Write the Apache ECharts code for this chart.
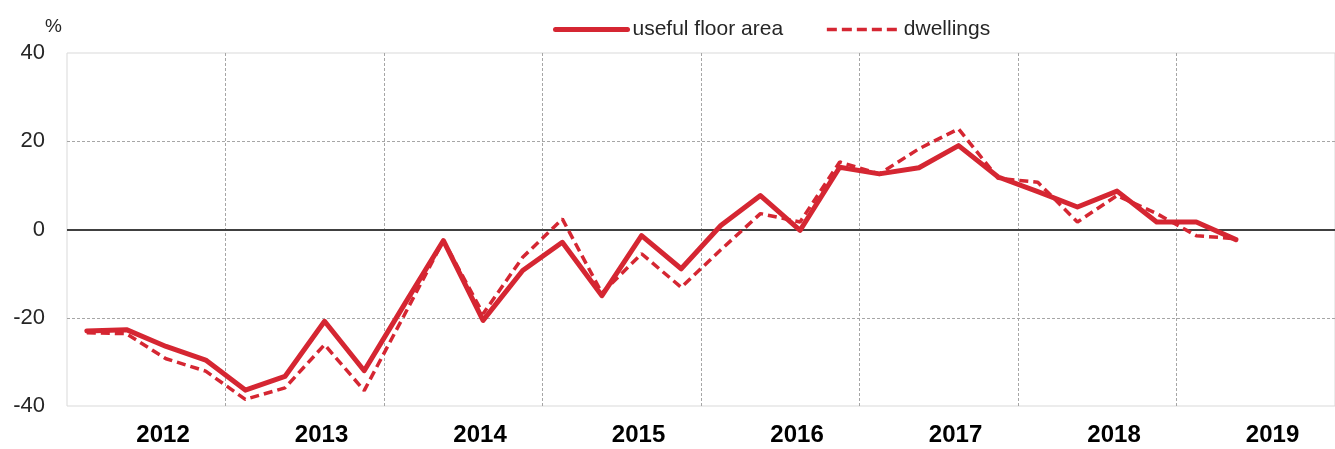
<!DOCTYPE html>
<html>
<head>
<meta charset="utf-8">
<title>useful floor area vs dwellings</title>
<script src="https://cdn.jsdelivr.net/npm/echarts@6/dist/echarts.min.js"></script>
<style>
  html, body { margin: 0; padding: 0; background: #fff; }
  #main { width: 1335px; height: 449px; }
</style>
</head>
<body>
<div id="main"></div>
<script>
// years shown on the axis; quarters are built from these
var years = ['2012', '2013', '2014', '2015', '2016', '2017', '2018', '2019']
var quarters = []
years.forEach(function (y) {
  ['Q1', 'Q2', 'Q3', 'Q4'].forEach(function (q) { quarters.push(y + ' ' + q) })
})

// y/y change, % (2012 Q1 .. 2019 Q2)
var floorArea = [
  -23.0, -22.7, -26.5, -29.6,
  -36.4, -33.3, -20.8, -32.0,
  -17.2, -2.5, -20.6, -9.3,
  -2.9, -15.0, -1.4, -8.9,
  0.9, 7.7, -0.2, 14.1,
  12.6, 14.0, 19.0, 11.9,
  8.6, 5.1, 8.7, 1.7,
  1.7, -2.3
]
var dwellings = [
  -23.4, -23.6, -29.3, -32.1,
  -38.5, -35.9, -26.1, -36.5,
  -19.6, -2.5, -19.1, -6.3,
  2.4, -14.4, -5.5, -13.1,
  -4.6, 3.6, 1.7, 15.3,
  12.6, 18.3, 22.8, 11.6,
  10.7, 1.7, 7.7, 3.6,
  -1.4, -2.1
]
var yTicks = { min: -40, max: 40, step: 20 }

var red = '#d52632'
var font = '"Liberation Sans Narrow", "Liberation Sans", Arial, sans-serif'

var chart = echarts.init(document.getElementById('main'))
chart.setOption({
  animation: false,
  backgroundColor: '#fff',
  grid: {
    left: 67,
    top: 53,
    bottom: 43,
    width: 1280,
    show: true,
    borderColor: '#d9d9d9',
    borderWidth: 1
  },
  legend: {
    left: 548,
    top: 14,
    itemWidth: 72,
    itemHeight: 14,
    itemGap: 42,
    itemStyle: { opacity: 0 },
    textStyle: {
      fontFamily: font,
      fontSize: 21,
      color: '#262626'
    },
    data: [
      { name: 'useful floor area', lineStyle: { width: 5, color: red, cap: 'round' } },
      { name: 'dwellings', lineStyle: { width: 3.5, color: red, type: [10, 5] } }
    ]
  },
  graphic: [
    {
      type: 'text',
      left: 45,
      top: 17,
      style: { text: '%', fontFamily: font, fontSize: 19, fill: '#262626' }
    }
  ],
  xAxis: {
    type: 'category',
    data: quarters,
    boundaryGap: true,
    axisLine: { show: false },
    axisTick: { show: false },
    axisLabel: {
      interval: function (index) { return index % 4 === 2 },
      formatter: function (v) { return v.slice(0, 4) },
      fontFamily: font,
      fontSize: 24,
      fontWeight: 'bold',
      color: '#000',
      margin: 17,
      padding: [0, 6, 0, 0]
    },
    splitLine: {
      show: true,
      interval: function (index) { return index > 0 && index % 4 === 0 },
      lineStyle: { color: '#a6a6a6', type: [3, 2], width: 1 }
    }
  },
  yAxis: {
    type: 'value',
    min: yTicks.min,
    max: yTicks.max,
    interval: yTicks.step,
    axisLine: { show: false },
    axisTick: { show: false },
    axisLabel: {
      fontFamily: font,
      fontSize: 22,
      color: '#262626',
      margin: 22
    },
    splitLine: {
      show: true,
      lineStyle: {
        color: ['rgba(0,0,0,0)', '#a6a6a6', 'rgba(0,0,0,0)', '#a6a6a6', 'rgba(0,0,0,0)'],
        type: [3, 2],
        width: 1
      }
    }
  },
  series: [
    {
      name: 'useful floor area',
      type: 'line',
      data: floorArea,
      symbol: 'none',
      z: 3,
      lineStyle: { color: red, width: 5, join: 'round', cap: 'round' },
      itemStyle: { color: red },
      markLine: {
        silent: true,
        symbol: 'none',
        label: { show: false },
        lineStyle: { color: '#404040', width: 2, type: 'solid' },
        data: [{ yAxis: 0 }],
        z: 1
      }
    },
    {
      name: 'dwellings',
      type: 'line',
      data: dwellings,
      symbol: 'none',
      z: 2,
      lineStyle: { color: red, width: 3.5, type: [9, 5] },
      itemStyle: { color: red }
    }
  ]
})
window.addEventListener('resize', function () { chart.resize() })
</script>
</body>
</html>
